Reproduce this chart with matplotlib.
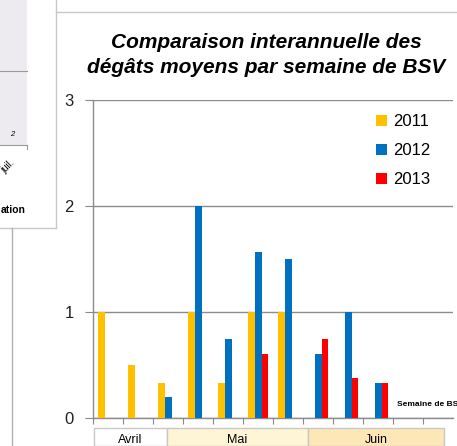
import matplotlib
matplotlib.use("Agg")
import matplotlib.pyplot as plt
from matplotlib.patches import Rectangle
from matplotlib.lines import Line2D
import numpy as np

plt.rcParams['font.family'] = ['Liberation Sans', 'DejaVu Sans']

# ---- data ----
weeks = list(range(1, 13))
series_names = ["2011", "2012", "2013"]
v2011 = [1, 0.5, 0.33, 1, 0.33, 1, 1, None, None, None, None, None]
v2012 = [None, None, 0.2, 2, 0.75, 1.57, 1.5, 0.6, 1, 0.33, None, None]
v2013 = [None, None, None, None, None, 0.6, None, 0.75, 0.375, 0.33, None, None]
colors = ["#FFC000", "#0070C0", "#FF0000"]
months = ["Avril", "Mai", "Juin"]
month_fill = ["#FFFFFF", "#FDF5D4", "#FDE7B6"]
yticks = [0, 1, 2, 3]
title = "Comparaison interannuelle des\ndégâts moyens par semaine de BSV"
xlabel = "Semaine de BSV"

W, H = 457, 446
fig = plt.figure(figsize=(W / 100, H / 100), dpi=100)
fig.patch.set_facecolor("white")

def fx(px):
    return px / W

def fy(py):
    return 1 - py / H

# ---- left neighbour chart fragment ----
fig.patches.append(Rectangle((0, fy(145)), fx(27), fy(0) - fy(145),
                             transform=fig.transFigure, facecolor="#EDEBF0",
                             edgecolor="none", zorder=0))
fig.add_artist(Line2D([0, fx(27)], [fy(71), fy(71)], transform=fig.transFigure,
                      color="#9A9A9A", lw=0.8))
fig.add_artist(Line2D([0, fx(27)], [fy(145), fy(145)], transform=fig.transFigure,
                      color="#9A9A9A", lw=0.8))
fig.add_artist(Line2D([fx(27), fx(27)], [fy(145), fy(149)], transform=fig.transFigure,
                      color="#9A9A9A", lw=0.8))
fig.text(fx(12), fy(134), "2", fontsize=5.5, style="italic", ha="center", va="center")
fig.text(fx(8), fy(166), "juil.", fontsize=7, rotation=45, ha="center", va="center")
fig.text(fx(26), fy(210), "ation", fontsize=7.5, fontweight="bold", ha="right", va="center")
fig.add_artist(Line2D([fx(56), fx(56)], [fy(0), fy(228)], transform=fig.transFigure,
                      color="#C8C8C8", lw=1))
fig.add_artist(Line2D([0, fx(56)], [fy(228), fy(228)], transform=fig.transFigure,
                      color="#C8C8C8", lw=1))
fig.add_artist(Line2D([fx(11.5), fx(11.5)], [fy(228), 0], transform=fig.transFigure,
                      color="#B0B0B0", lw=1))
fig.add_artist(Line2D([fx(56), 1], [fy(12), fy(12)], transform=fig.transFigure,
                      color="#C8C8C8", lw=1))

# ---- main axes ----
x0, x1 = 93.3, 453.3
y0, y1 = 418, 100
ax = fig.add_axes([fx(x0), fy(y0), fx(x1) - fx(x0), fy(y1) - fy(y0)])
ax.set_facecolor("none")

x = np.arange(len(weeks))
bw = 0.222
for i, (vals, c, name) in enumerate(zip([v2011, v2012, v2013], colors, series_names)):
    h = [v if v is not None else 0 for v in vals]
    mask = [v is not None for v in vals]
    xs = x[mask] + (i - 1) * bw
    hs = np.array(h)[mask]
    ax.bar(xs, hs, width=bw, color=c, edgecolor="none", zorder=3, label=name)

ax.set_xlim(-0.5, len(weeks) - 0.5)
ax.set_ylim(0, 3)
ax.set_yticks(yticks)
ax.set_yticklabels([str(t) for t in yticks], fontsize=12, color="#222222")
ax.set_xticks(np.arange(-0.5, len(weeks) - 0.5, 1))
ax.set_xticklabels([])
ax.tick_params(axis="x", length=4, color="#888888", width=0.8, direction="out")
ax.tick_params(axis="y", length=6, color="#888888", width=0.8, direction="out", pad=8)
ax.grid(axis="y", color="#8C8C8C", lw=1, zorder=0)
for s in ["top", "right"]:
    ax.spines[s].set_visible(False)
for s in ["left", "bottom"]:
    ax.spines[s].set_color("#8C8C8C")
    ax.spines[s].set_linewidth(1)

leg = ax.legend(loc="upper left", bbox_to_anchor=(fx(376), fy(114)),
                bbox_transform=fig.transFigure, frameon=False, fontsize=12,
                handlelength=0.65, handleheight=0.65, handletextpad=0.4,
                labelspacing=0.85, borderpad=0, borderaxespad=0)

fig.text(fx(397), fy(404), xlabel, fontsize=6, fontweight="bold", ha="left", va="center")

# ---- title ----
fig.text(fx(266), fy(55), title, fontsize=15, fontweight="bold", style="italic",
         ha="center", va="center", linespacing=1.35)

# ---- month boxes ----
bounds = [94.3, 166.7, 308, 444]
for m, f, a, b in zip(months, month_fill, bounds[:-1], bounds[1:]):
    fig.patches.append(Rectangle((fx(a), 0), fx(b) - fx(a), fy(428),
                                 transform=fig.transFigure, facecolor=f,
                                 edgecolor="#C8C8C8", lw=1, zorder=1))
    fig.text(fx((a + b) / 2), fy(440), m, fontsize=9, ha="center", va="center")

fig.savefig("out.png", dpi=100)
